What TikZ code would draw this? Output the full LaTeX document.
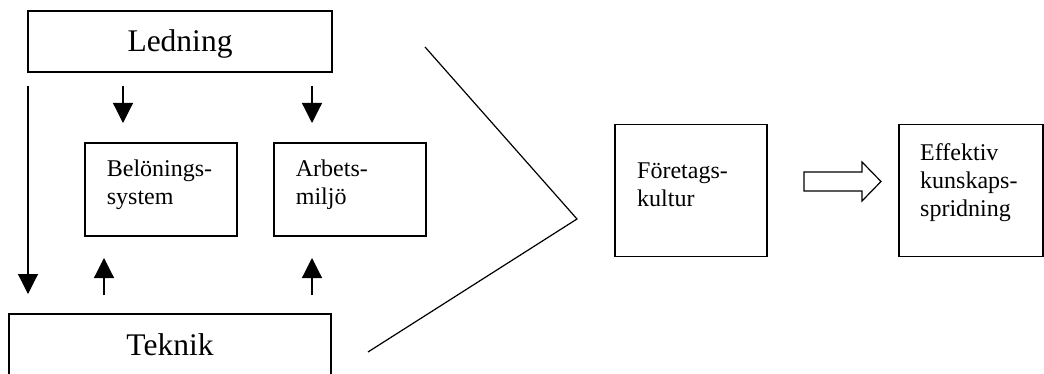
\documentclass[tikz,border=0pt]{standalone}
\usepackage{fontspec}
\setmainfont{Liberation Serif}
\usetikzlibrary{arrows.meta}
\begin{document}
\begin{tikzpicture}[x=1pt,y=-1pt,
  box/.style={draw,line width=1.3pt,inner sep=0pt},
  big/.style={font=\fontsize{31.5}{37}\selectfont,inner sep=0pt},
  small/.style={font=\fontsize{24}{28.3}\selectfont,inner sep=0pt,align=left},
  conn/.style={line width=1.2pt,-{Triangle[length=20pt,width=20pt]}},
  ln/.style={line width=1.2pt}]
\useasboundingbox (0,0) rectangle (1044,374);
% boxes
\node[box,minimum width=304pt,minimum height=61pt] (led) at (180,41.5) {};
\node[box,minimum width=322pt,minimum height=82pt] (tek) at (170,355) {};
\node[box,minimum width=152pt,minimum height=93pt] (bel) at (161,189.5) {};
\node[box,minimum width=152pt,minimum height=93pt] (arb) at (350,189.5) {};
\node[box,minimum width=152pt,minimum height=132.5pt] (for) at (691,190.5) {};
\node[box,minimum width=144pt,minimum height=132.5pt] (eff) at (971,190.5) {};
% texts (base anchor = baseline of last line)
\node[big,anchor=base] (ledt) at (180,52) {Ledning};
\node[big,anchor=base] (tekt) at (170,355) {Teknik};
\node[small,anchor=base west] (belt) at (106.7,204.6) {Belönings-\\system};
\node[small,anchor=base west] (arbt) at (295.7,204.6) {Arbets-\\miljö};
\node[small,anchor=base west] (fort) at (637,207) {Företags-\\kultur};
\node[small,anchor=base west] (efft) at (920,217) {Effektiv\\kunskaps-\\spridning};
% arrows
\coordinate (a1s) at (28,86);   \coordinate (a1e) at (28,294);
\coordinate (a2s) at (123,86);  \coordinate (a2e) at (123,123);
\coordinate (a3s) at (312,86);  \coordinate (a3e) at (312,123);
\coordinate (a4s) at (104,295); \coordinate (a4e) at (104,258);
\coordinate (a5s) at (312,295); \coordinate (a5e) at (312,258);
\draw[conn] (a1s) -- (a1e);
\draw[conn] (a2s) -- (a2e);
\draw[conn] (a3s) -- (a3e);
\draw[conn] (a4s) -- (a4e);
\draw[conn] (a5s) -- (a5e);
% chevron
\coordinate (c1) at (425,47);
\coordinate (c2) at (577,219);
\coordinate (c3) at (368,352);
\draw[ln] (c1) -- (c2) -- (c3);
% hollow arrow
\draw[ln,line join=miter] (804,172) -- (862,172) -- (862,162) -- (881,181.5) -- (862,201) -- (862,191) -- (804,191) -- cycle;
\end{tikzpicture}
\end{document}
